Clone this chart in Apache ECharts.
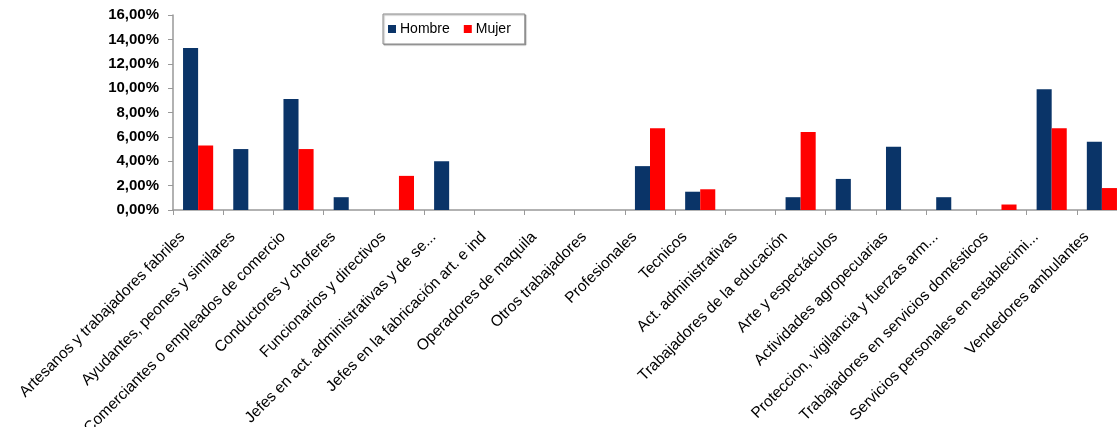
<!DOCTYPE html>
<html>
<head>
<meta charset="utf-8">
<script src="https://cdn.jsdelivr.net/npm/echarts@6/dist/echarts.min.js"></script>
<style>html,body{margin:0;padding:0;background:#fff}#c{width:1117px;height:427px}</style>
</head>
<body>
<div id="c"></div>
<script>
const categories = [
  "Artesanos y trabajadores fabriles",
  "Ayudantes, peones y similares",
  "Comerciantes o empleados de comercio",
  "Conductores y choferes",
  "Funcionarios y directivos",
  "Jefes en act. administrativas y de se...",
  "Jefes en la fabricación art. e ind",
  "Operadores de maquila",
  "Otros trabajadores",
  "Profesionales",
  "Tecnicos",
  "Act. administrativas",
  "Trabajadores de la educación",
  "Arte y espectáculos",
  "Actividades agropecuarias",
  "Proteccion, vigilancia y fuerzas arm...",
  "Trabajadores en servicios domésticos",
  "Servicios personales en establecimi...",
  "Vendedores ambulantes"
];
const hombre = [13.3, 5.0, 9.1, 1.05, 0, 4.0, 0, 0, 0, 3.6, 1.5, 0, 1.05, 2.55, 5.2, 1.05, 0, 9.9, 5.6];
const mujer  = [5.3, 0, 5.0, 0, 2.8, 0, 0, 0, 0, 6.7, 1.7, 0, 6.4, 0, 0, 0, 0.45, 6.7, 1.8];
const seriesNames = ["Hombre", "Mujer"];
const yMin = 0, yMax = 16, yStep = 2;

const chart = echarts.init(document.getElementById('c'), null, {renderer: 'canvas'});
chart.setOption({
  animation: false,
  backgroundColor: '#ffffff',
  textStyle: {fontFamily: 'Liberation Sans, Arial, sans-serif'},
  legend: {
    data: seriesNames,
    left: 383, top: 14,
    orient: 'horizontal',
    itemWidth: 8, itemHeight: 8, itemGap: 14,
    icon: 'rect',
    padding: [8, 14, 8, 5],
    borderColor: '#8a8a8a', borderWidth: 1,
    backgroundColor: '#fff',
    shadowColor: 'rgba(0,0,0,0.3)', shadowOffsetX: 1, shadowOffsetY: 1, shadowBlur: 1,
    textStyle: {fontSize: 14, color: '#000', padding: [0,0,0,-1]}
  },
  grid: {left: 173, right: -10, top: 15, bottom: 217, containLabel: false, outerBoundsMode: 'none'},
  xAxis: {
    type: 'category',
    data: categories,
    boundaryGap: true,
    axisLine: {lineStyle: {color: '#999', width: 1.5}},
    axisTick: {show: true, length: 5, lineStyle: {color: '#999'}, alignWithLabel: false},
    axisLabel: {interval: 0, rotate: 45, margin: 9, fontSize: 15.5, color: '#000',
                padding: [0, 22, 0, 0]}
  },
  yAxis: {
    type: 'value',
    min: yMin, max: yMax, interval: yStep,
    splitLine: {show: false},
    axisLine: {show: true, lineStyle: {color: '#999', width: 1.5}},
    axisTick: {show: true, length: 5, lineStyle: {color: '#999'}},
    axisLabel: {
      fontSize: 15, fontWeight: 'bold', color: '#000', margin: 14,
      formatter: v => v.toFixed(2).replace('.', ',') + '%'
    }
  },
  series: [
    {name: seriesNames[0], type: 'bar', data: hombre, barGap: '0%', barCategoryGap: '40%',
     itemStyle: {color: '#0a3468'}},
    {name: seriesNames[1], type: 'bar', data: mujer, barGap: '0%', barCategoryGap: '40%',
     itemStyle: {color: '#ff0000'}}
  ]
});
</script>
</body>
</html>
